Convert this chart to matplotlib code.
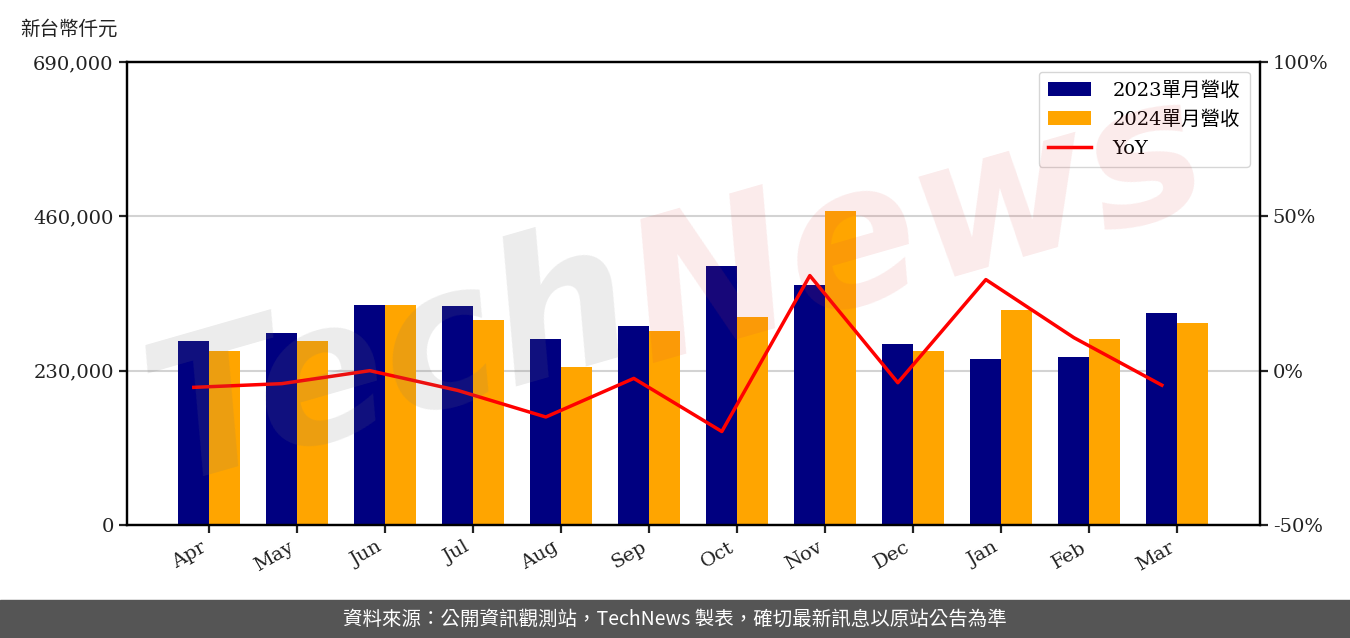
import matplotlib.pyplot as plt
import numpy as np

# monthly revenue (NT$ thousand)
months = ["Apr", "May", "Jun", "Jul", "Aug", "Sep", "Oct", "Nov", "Dec", "Jan", "Feb", "Mar"]
rev_2023 = [274200, 286100, 327900, 326400, 277200, 296600, 386000, 357700, 269700, 247400, 250400, 316000]
rev_2024 = [259300, 274200, 327900, 305500, 235500, 289100, 310000, 468000, 259300, 320400, 277200, 301000]
yoy = [-5.4, -4.2, 0.0, -6.4, -15.0, -2.5, -19.7, 30.8, -3.9, 29.5, 10.7, -4.7]

left_ticks = [0, 230000, 460000, 690000]
right_ticks = [-50, 0, 50, 100]

serif = ["DejaVu Serif", "Noto Sans CJK TC"]
sans = ["Noto Sans CJK TC", "DejaVu Sans"]

fig = plt.figure(figsize=(13.5, 6.38), dpi=100)
ax = fig.add_axes([0.094, 0.177, 0.839, 0.726])
ax2 = ax.twinx()

x = np.arange(len(months))
w = 0.35
ax.bar(x - w / 2, rev_2023, w, color="#000080", label="2023單月營收", zorder=2)
ax.bar(x + w / 2, rev_2024, w, color="#FFA500", label="2024單月營收", zorder=2)
ax2.plot(x - w / 2, yoy, color="red", linewidth=2.5, label="YoY")

ax.set_ylim(0, 690000)
ax.set_yticks(left_ticks)
ax.set_yticklabels([f"{v:,}" for v in left_ticks], family=serif, fontsize=14)
ax.set_xticks(x)
ax.set_xticklabels(months, rotation=30, ha="right", family=serif, fontsize=14)
ax.grid(axis="y", color="#d3d3d3", linewidth=1.5)
ax.set_axisbelow(True)

ax2.set_ylim(-50, 100)
ax2.set_yticks(right_ticks)
ax2.set_yticklabels([f"{v}%" for v in right_ticks], family=serif, fontsize=14)

for a in (ax, ax2):
    for s in a.spines.values():
        s.set_linewidth(1.6)
    a.tick_params(width=1.6, length=6, colors="#222222")

h1, l1 = ax.get_legend_handles_labels()
h2, l2 = ax2.get_legend_handles_labels()
ax2.legend(h1 + h2, l1 + l2, loc="upper right", prop={"family": serif, "size": 14},
           handlelength=2.2, handletextpad=1.1, borderpad=0.5, labelspacing=0.55)

fig.text(0.015, 0.955, "新台幣仟元", family=sans, fontsize=14, color="#222222", va="center")

# watermark
fig.text(0.29, 0.43, "Tech", fontsize=140, fontstyle="italic", fontweight="bold",
         color="#777777", alpha=0.14, rotation=16, ha="center", va="center", family="DejaVu Sans")
fig.text(0.68, 0.64, "News", fontsize=140, fontstyle="italic", fontweight="bold",
         color="#dd4444", alpha=0.11, rotation=16, ha="center", va="center", family="DejaVu Sans")

# footer
fig.patches.append(plt.Rectangle((0, 0), 1, 0.06, transform=fig.transFigure,
                                 color="#555555", zorder=0))
fig.text(0.5, 0.03, "資料來源：公開資訊觀測站，TechNews 製表，確切最新訊息以原站公告為準",
         family=sans, fontsize=14, color="white", ha="center", va="center")

fig.savefig("out.png", dpi=100)
